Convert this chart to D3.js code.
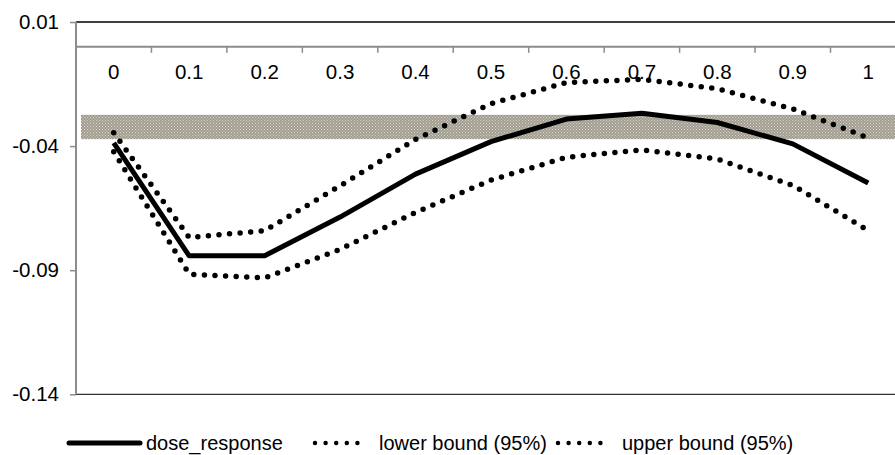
<!DOCTYPE html>
<html>
<head>
<meta charset="utf-8">
<script src="https://cdn.jsdelivr.net/npm/d3@7/dist/d3.min.js"></script>
<style>
  html, body { margin: 0; padding: 0; background: #fff; }
  svg { display: block; font-family: "Liberation Sans", Arial, sans-serif; }
</style>
</head>
<body>
<svg id="chart" width="895" height="455"></svg>
<script>
const categories = ["0", "0.1", "0.2", "0.3", "0.4", "0.5", "0.6", "0.7", "0.8", "0.9", "1"];
const doseResponse = [-0.0387, -0.0842, -0.0842, -0.0686, -0.0513, -0.0382, -0.0291, -0.0268, -0.0305, -0.0391, -0.0549];
const lowerBound = [-0.0423, -0.0916, -0.0931, -0.0816, -0.0667, -0.0537, -0.0445, -0.0415, -0.0452, -0.0558, -0.0740];
const upperBound = [-0.0346, -0.0768, -0.0741, -0.0560, -0.0373, -0.0229, -0.0144, -0.0131, -0.0169, -0.0250, -0.0367];
const bandRange = [-0.0372, -0.0274];
const yTicks = [0.01, -0.04, -0.09, -0.14];
const seriesNames = ["dose_response", "lower bound (95%)", "upper bound (95%)"];

(function () {
const svg = d3.select("#chart");
const mLeft = 76, mTop = 22, mBottom = 394.3;
const bandW = 75.45;
const x = d3.scaleBand().domain(categories).range([mLeft, mLeft + bandW * categories.length]).padding(0);
const y = d3.scaleLinear().domain([-0.14, 0.01]).range([mBottom, mTop]);
const cx = d => x(d) + x.bandwidth() / 2;
const FONT = "'Liberation Sans', Arial, sans-serif";

// pattern for shaded band
const defs = svg.append("defs");
const pat = defs.append("pattern").attr("id", "hatch").attr("patternUnits", "userSpaceOnUse")
  .attr("width", 3).attr("height", 3);
pat.append("rect").attr("width", 3).attr("height", 3).attr("fill", "#a19d90");
pat.append("rect").attr("x", 0).attr("y", 0).attr("width", 1).attr("height", 1).attr("fill", "#d8d5cd");
pat.append("rect").attr("x", 1.5).attr("y", 1.5).attr("width", 1).attr("height", 1).attr("fill", "#d8d5cd");

// plot border top & bottom
svg.append("line").attr("x1", mLeft).attr("x2", x.range()[1]).attr("y1", y(0.01)).attr("y2", y(0.01))
  .attr("stroke", "#000").attr("stroke-width", 1.5);
svg.append("line").attr("x1", mLeft).attr("x2", x.range()[1]).attr("y1", y(-0.14)).attr("y2", y(-0.14))
  .attr("stroke", "#333").attr("stroke-width", 1.2);

// shaded band
svg.append("rect")
  .attr("x", mLeft + 5).attr("width", x.range()[1] - mLeft - 5)
  .attr("y", y(bandRange[1])).attr("height", y(bandRange[0]) - y(bandRange[1]))
  .attr("fill", "url(#hatch)");

// y axis
const yAxis = d3.axisLeft(y).tickValues(yTicks).tickSize(6).tickPadding(11)
  .tickFormat(d => d3.format(".2f")(d).replace("\u2212", "-"));
const gy = svg.append("g").attr("transform", `translate(${mLeft},0)`).call(yAxis);
gy.select(".domain").attr("stroke", "#8c8c8c").attr("stroke-width", 2).attr("d", `M0,${mTop}V${mBottom}`);
gy.selectAll(".tick line").attr("stroke", "#8c8c8c").attr("stroke-width", 1.5);
gy.selectAll(".tick text").attr("font-size", 20.5).attr("fill", "#000").attr("font-family", FONT);

// x axis at y=0
const xAxis = d3.axisBottom(x).tickSize(0).tickPadding(18);
const gx = svg.append("g").attr("transform", `translate(0,${y(0)})`).call(xAxis);
gx.select(".domain").attr("stroke", "#8c8c8c").attr("stroke-width", 2).attr("d", `M${mLeft},0H${x.range()[1]}`);
gx.selectAll(".tick text").attr("font-size", 20.5).attr("fill", "#000").attr("font-family", FONT);
gx.selectAll(".bnd").data(categories.slice(1)).enter().append("line")
  .attr("x1", d => x(d)).attr("x2", d => x(d)).attr("y1", 0).attr("y2", 6)
  .attr("stroke", "#8c8c8c").attr("stroke-width", 1.5);

// lines
const line = d3.line().x((d, i) => cx(categories[i])).y(d => y(d));
svg.append("path").datum(lowerBound).attr("d", line).attr("fill", "none")
  .attr("stroke", "#000").attr("stroke-width", 5.5).attr("stroke-linecap", "round")
  .attr("stroke-dasharray", "0 10.6");
svg.append("path").datum(upperBound).attr("d", line).attr("fill", "none")
  .attr("stroke", "#000").attr("stroke-width", 5.5).attr("stroke-linecap", "round")
  .attr("stroke-dasharray", "0 10.6");
svg.append("path").datum(doseResponse).attr("d", line).attr("fill", "none")
  .attr("stroke", "#000").attr("stroke-width", 5).attr("stroke-linejoin", "round");

// legend
const ly = 443;
const leg = svg.append("g").attr("font-size", 20).attr("fill", "#000").attr("font-family", FONT);
const legItems = [
  { name: seriesNames[0], x0: 69, x1: 140, tx: 146, dash: null, w: 5 },
  { name: seriesNames[1], x0: 315, x1: 368, tx: 379, dash: "0 10.6", w: 4.5 },
  { name: seriesNames[2], x0: 558, x1: 611, tx: 622, dash: "0 10.6", w: 4.5 }
];
legItems.forEach(it => {
  const l = leg.append("line").attr("x1", it.x0).attr("x2", it.x1).attr("y1", ly).attr("y2", ly)
    .attr("stroke", "#000").attr("stroke-width", it.w).attr("stroke-linecap", "round");
  if (it.dash) l.attr("stroke-dasharray", it.dash);
  leg.append("text").attr("x", it.tx).attr("y", ly + 7).text(it.name);
});
})();
</script>
</body>
</html>
